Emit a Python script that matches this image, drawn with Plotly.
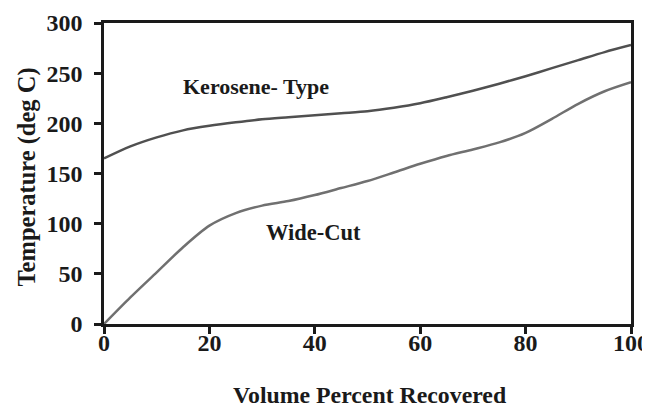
import plotly.graph_objects as go

volume = [0, 5, 10, 15, 20, 25, 30, 35, 40, 45, 50, 55, 60, 65, 70, 75, 80, 85, 90, 95, 100]
kerosene = [165, 177, 186, 193, 197.5, 201, 204, 206, 208, 210, 212, 215.5, 220, 226, 232.5, 239.5, 247, 255, 263, 271, 278]
widecut = [0, 26.5, 51.5, 76.5, 98, 110.5, 118, 122.5, 128.5, 135.5, 142.5, 151, 159.7, 167.5, 174, 181, 190.5, 204.5, 219.5, 232, 241]

x_ticks = [0, 20, 40, 60, 80, 100]
y_ticks = [0, 50, 100, 150, 200, 250, 300]

FONT = "Liberation Serif"
INK = "#1a1a1a"

fig = go.Figure()
fig.add_trace(go.Scatter(x=volume, y=kerosene, mode="lines",
                         line=dict(color="#505050", width=2.5, shape="spline", smoothing=0.8),
                         name="Kerosene- Type"))
fig.add_trace(go.Scatter(x=volume, y=widecut, mode="lines",
                         line=dict(color="#707070", width=2.5, shape="spline", smoothing=0.8),
                         name="Wide-Cut"))

fig.add_annotation(x=28.8, y=237, text="<b>Kerosene- Type</b>", showarrow=False,
                   font=dict(family=FONT, size=22, color=INK))
fig.add_annotation(x=39.7, y=91, text="<b>Wide-Cut</b>", showarrow=False,
                   font=dict(family=FONT, size=22.5, color=INK))

# axis titles
fig.add_annotation(xref="paper", yref="paper", x=0.5, y=0, xshift=2, yshift=-71,
                   xanchor="center", yanchor="middle", showarrow=False,
                   text="<b>Volume Percent Recovered</b>", font=dict(family=FONT, size=23.8, color=INK))
fig.add_annotation(xref="paper", yref="paper", x=0, y=0.5, xshift=-78, yshift=-4,
                   xanchor="center", yanchor="middle", showarrow=False, textangle=-90,
                   text="<b>Temperature (deg C)</b>", font=dict(family=FONT, size=24.5, color=INK))

axis_common = dict(showgrid=False, zeroline=False, showline=True, linecolor=INK, linewidth=2.5,
                   mirror=True, ticks="outside", ticklen=7, tickwidth=2.5, tickcolor=INK,
                   automargin=False,
                   tickfont=dict(family=FONT, size=24, color=INK))

fig.update_xaxes(range=[0, 100], tickvals=x_ticks, ticktext=[f"<b>{v}</b>" for v in x_ticks],
                 ticklabelstandoff=-12, **axis_common)
fig.update_yaxes(range=[0, 300], tickvals=y_ticks, ticktext=[f"<b>{v}</b>" for v in y_ticks],
                 ticklabelstandoff=7, **axis_common)

fig.update_layout(width=650, height=415, margin=dict(l=96, r=27, t=15, b=99),
                  plot_bgcolor="white", paper_bgcolor="white", showlegend=False)

fig.write_html("out.html")
